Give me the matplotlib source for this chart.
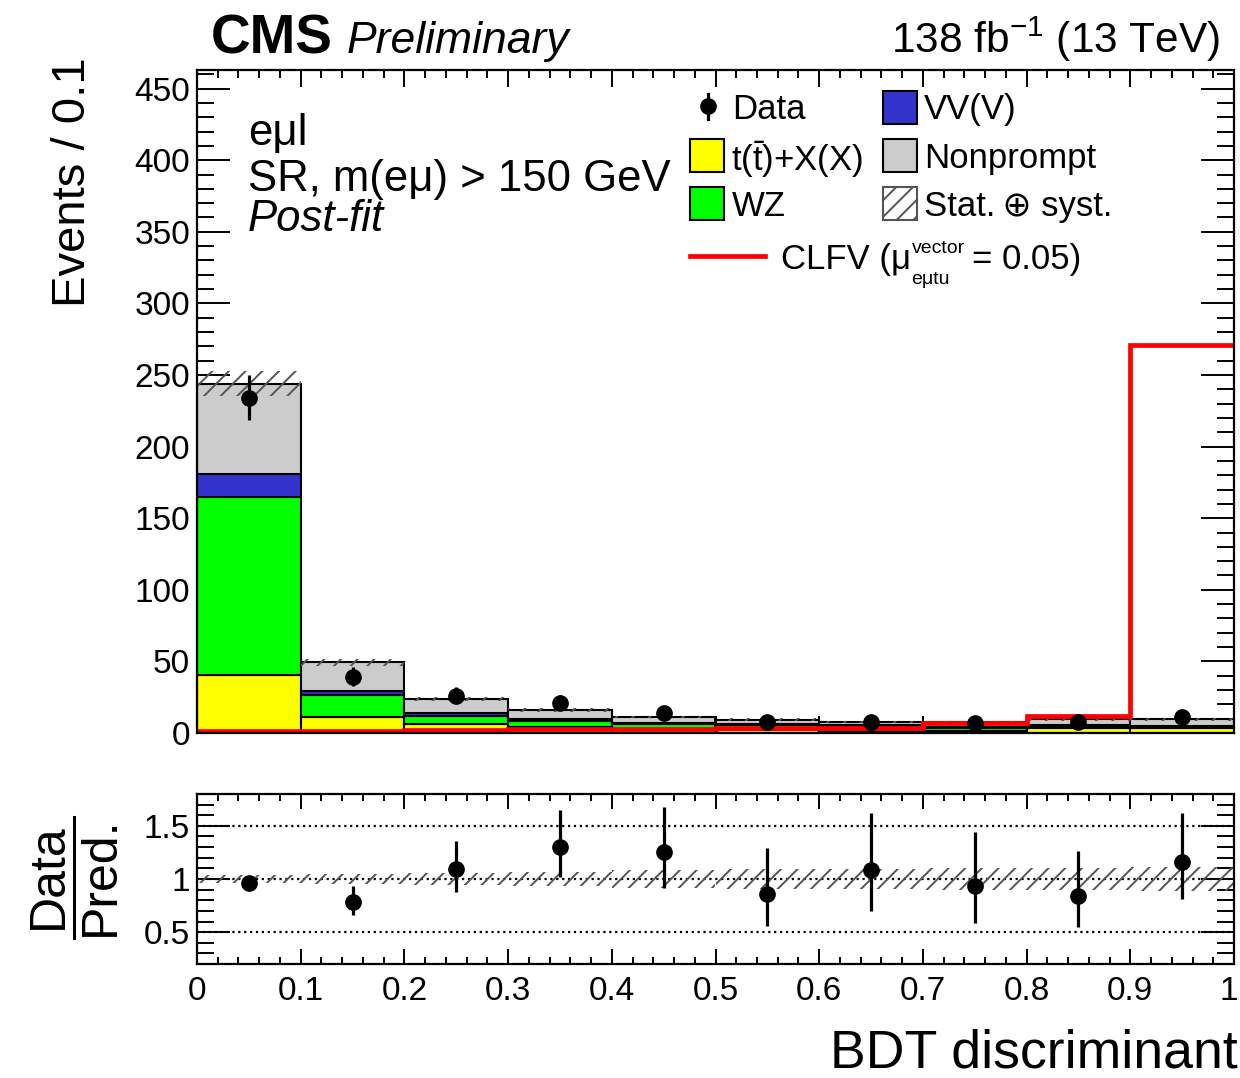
import matplotlib
matplotlib.use("Agg")
import matplotlib.pyplot as plt
import matplotlib.transforms as mtransforms
from matplotlib.patches import Rectangle
from matplotlib.lines import Line2D
from matplotlib.ticker import MultipleLocator, FuncFormatter
import numpy as np

# ---------------- data ----------------
bin_edges = [0.0, 0.1, 0.2, 0.3, 0.4, 0.5, 0.6, 0.7, 0.8, 0.9, 1.0]
ttx = [40.6, 11.4, 6.3, 4.5, 3.0, 1.8, 1.5, 1.5, 3.5, 3.3]
wz = [124.4, 15.0, 5.7, 4.1, 3.1, 3.5, 2.8, 2.0, 1.5, 1.0]
vv = [16.0, 3.2, 2.2, 0.9, 0.9, 1.3, 1.2, 0.5, 0.8, 0.7]
nonprompt = [63.0, 19.9, 9.6, 6.6, 4.2, 2.7, 1.9, 3.5, 3.7, 4.5]
unc = [9.0, 2.5, 1.4, 1.1, 0.9, 0.85, 0.7, 0.75, 1.0, 1.1]
data = [234, 39, 26, 21, 14, 8, 8, 7, 8, 11]
data_err_lo = [15.3, 6.2, 5.1, 4.6, 3.7, 2.8, 2.8, 2.6, 2.8, 3.3]
data_err_hi = [16.3, 7.3, 6.2, 5.6, 4.8, 4.0, 4.0, 3.8, 4.0, 4.4]
signal = [1.5, 1.5, 2.0, 2.5, 3.0, 3.3, 3.8, 7.0, 12.2, 271.0]

x_tick_labels = ["0", "0.1", "0.2", "0.3", "0.4", "0.5", "0.6", "0.7", "0.8", "0.9", "1"]

# ---------------- style ----------------
plt.rcParams["font.family"] = ["Liberation Sans", "DejaVu Sans"]
plt.rcParams["mathtext.fontset"] = "custom"
plt.rcParams["mathtext.rm"] = "Liberation Sans"
plt.rcParams["mathtext.it"] = "Liberation Sans:italic"
plt.rcParams["mathtext.bf"] = "Liberation Sans:bold"
plt.rcParams["hatch.linewidth"] = 1.4

C_TTX = "#FFFF00"
C_WZ = "#00FF00"
C_VV = "#3333CC"
C_NP = "#CCCCCC"
C_SIG = "#FF0000"
C_HATCH = "#555555"

W, H = 1240, 1078
fig = plt.figure(figsize=(W / 100, H / 100), dpi=100)


def fx(x):
    return x / W


def fy(y):
    return 1 - y / H


ax = fig.add_axes([fx(197), fy(733), fx(1234) - fx(197), fy(70) - fy(733)])
rax = fig.add_axes([fx(197), fy(964), fx(1234) - fx(197), fy(794) - fy(964)])

edges = np.array(bin_edges)
lefts = edges[:-1]
widths = np.diff(edges)
centers = 0.5 * (edges[:-1] + edges[1:])

# ---------------- stack ----------------
bottom = np.zeros(len(ttx))
for vals, col in [(ttx, C_TTX), (wz, C_WZ), (vv, C_VV), (nonprompt, C_NP)]:
    vals = np.array(vals)
    ax.bar(lefts, vals, width=widths, bottom=bottom, align="edge",
           color=col, edgecolor="black", linewidth=1.5, zorder=2)
    bottom = bottom + vals
total = bottom
unc_a = np.array(unc)

ax.bar(lefts, 2 * unc_a, width=widths, bottom=total - unc_a, align="edge",
       fill=False, hatch="//", edgecolor=C_HATCH, linewidth=0, zorder=3)

ax.stairs(signal, edges, baseline=None, color=C_SIG, linewidth=3.4, zorder=4)

ax.errorbar(centers, data, yerr=[data_err_lo, data_err_hi], fmt="o",
            color="black", markersize=11, elinewidth=2.3, capsize=0, zorder=5)

ax.set_xlim(0, 1)
ax.set_ylim(0, 463)
ax.xaxis.set_major_locator(MultipleLocator(0.1))
ax.xaxis.set_minor_locator(MultipleLocator(0.02))
ax.yaxis.set_major_locator(MultipleLocator(50))
ax.yaxis.set_minor_locator(MultipleLocator(10))
ax.tick_params(axis="both", which="both", direction="in", top=True, right=True,
               width=1.4, labelsize=24)
ax.tick_params(axis="y", which="major", length=24, pad=5)
ax.tick_params(axis="y", which="minor", length=12)
ax.tick_params(axis="x", which="major", length=12)
ax.tick_params(axis="x", which="minor", length=6)
ax.tick_params(axis="x", labelbottom=False)
for s in ax.spines.values():
    s.set_linewidth(1.6)
    s.set_zorder(6)

# ---------------- ratio ----------------
ratio = np.array(data) / total
r_lo = np.array(data_err_lo) / total
r_hi = np.array(data_err_hi) / total
rel_unc = unc_a / total

for yv in (0.5, 1.0, 1.5):
    rax.axhline(yv, color="black", linestyle=":", linewidth=1.6, zorder=1)
rax.bar(lefts, 2 * rel_unc, width=widths, bottom=1 - rel_unc, align="edge",
        fill=False, hatch="//", edgecolor=C_HATCH, linewidth=0, zorder=2)
rax.errorbar(centers, ratio, yerr=[r_lo, r_hi], fmt="o", color="black",
             markersize=11, elinewidth=2.3, capsize=0, zorder=5)

rax.set_xlim(0, 1)
rax.set_ylim(0.2, 1.8)
rax.xaxis.set_major_locator(MultipleLocator(0.1))
rax.xaxis.set_minor_locator(MultipleLocator(0.02))
rax.yaxis.set_major_locator(MultipleLocator(0.5))
rax.yaxis.set_minor_locator(MultipleLocator(0.1))
rax.set_xticks(bin_edges)
rax.set_xticklabels(x_tick_labels)
rax.yaxis.set_major_formatter(FuncFormatter(lambda v, p: f"{v:g}"))
rax.tick_params(axis="both", which="both", direction="in", top=True, right=True,
                width=1.4, labelsize=24)
rax.tick_params(axis="y", which="major", length=24, pad=5)
rax.tick_params(axis="y", which="minor", length=12)
rax.tick_params(axis="x", which="major", length=11, pad=9)
rax.tick_params(axis="x", which="minor", length=5)
for s in rax.spines.values():
    s.set_linewidth(1.6)
    s.set_zorder(6)
# keep the last tick label ("1") inside the canvas
last_lab = rax.get_xticklabels()[-1]
last_lab.set_transform(last_lab.get_transform() +
                       mtransforms.ScaledTranslation(-5 / 100, 0, fig.dpi_scale_trans))

# ---------------- texts ----------------
fig.text(fx(211), fy(53), "CMS", fontsize=39.5, fontweight="bold", ha="left", va="baseline")
fig.text(fx(347), fy(53), "Preliminary", fontsize=32, style="italic", ha="left", va="baseline")
fig.text(fx(1220), fy(53), r"138 fb$^{-1}$ (13 TeV)", fontsize=30.5, ha="right", va="baseline")

fig.text(fx(73), fy(57), "Events / 0.1", fontsize=34, rotation=90, ha="center", va="top")
fig.text(fx(1238), fy(1068), "BDT discriminant", fontsize=38.6, ha="right", va="baseline")

fig.text(fx(49), fy(876), "Data", fontsize=36, rotation=90, ha="center", va="center")
fig.text(fx(101), fy(876), "Pred.", fontsize=36, rotation=90, ha="center", va="center")
fig.add_artist(Line2D([fx(74), fx(74)], [fy(817), fy(938)], color="black", linewidth=2.2))

fig.text(fx(248), fy(145), "eμl", fontsize=31.5, ha="left", va="baseline")
fig.text(fx(248), fy(191), "SR, m(eμ) > 150 GeV", fontsize=31.5, ha="left", va="baseline")
fig.text(fx(248), fy(231), "Post-fit", fontsize=31.5, style="italic", ha="left", va="baseline")

# ---------------- legend ----------------
LFS = 25


def box(x0, y0, x1, y1, **kw):
    fig.add_artist(Rectangle((fx(x0), fy(y1)), fx(x1) - fx(x0), fy(y0) - fy(y1), **kw))


# Data
fig.add_artist(Line2D([fx(708), fx(708)], [fy(94), fy(119)], color="black", linewidth=2.3))
fig.add_artist(Line2D([fx(708)], [fy(106)], marker="o", color="black", markersize=11))
fig.text(fx(732), fy(106), "Data", fontsize=LFS, ha="left", va="center_baseline")
# VV
box(883, 91, 917, 124, facecolor=C_VV, edgecolor="black", linewidth=1.5)
fig.text(fx(924), fy(106), "VV(V)", fontsize=LFS, ha="left", va="center_baseline")
# ttX
box(690, 139, 724, 172, facecolor=C_TTX, edgecolor="black", linewidth=1.5)
fig.text(fx(731), fy(155), r"t($\bar{\mathrm{t}}$)+X(X)", fontsize=LFS, ha="left", va="center_baseline")
# Nonprompt
box(883, 139, 917, 172, facecolor=C_NP, edgecolor="black", linewidth=1.5)
fig.text(fx(924), fy(155), "Nonprompt", fontsize=LFS, ha="left", va="center_baseline")
# WZ
box(690, 187, 724, 220, facecolor=C_WZ, edgecolor="black", linewidth=1.5)
fig.text(fx(732), fy(203), "WZ", fontsize=LFS, ha="left", va="center_baseline")
# Stat + syst
box(883, 187, 917, 220, facecolor="white", edgecolor=C_HATCH, hatch="//", linewidth=1.5)
fig.text(fx(924), fy(203), "Stat.\u2009⊕ syst.", fontsize=LFS, ha="left", va="center_baseline")
# CLFV
fig.add_artist(Line2D([fx(690), fx(765)], [fy(256), fy(256)], color=C_SIG, linewidth=3.4))
fig.text(fx(781), fy(256), "CLFV (μ", fontsize=LFS, ha="left", va="center_baseline")
fig.text(fx(912), fy(247), "vector", fontsize=14, ha="left", va="center_baseline")
fig.text(fx(911), fy(277), "eμtu", fontsize=14, ha="left", va="center_baseline")
fig.text(fx(972), fy(256), "= 0.05)", fontsize=LFS, ha="left", va="center_baseline")

fig.savefig("out.png", dpi=100)
